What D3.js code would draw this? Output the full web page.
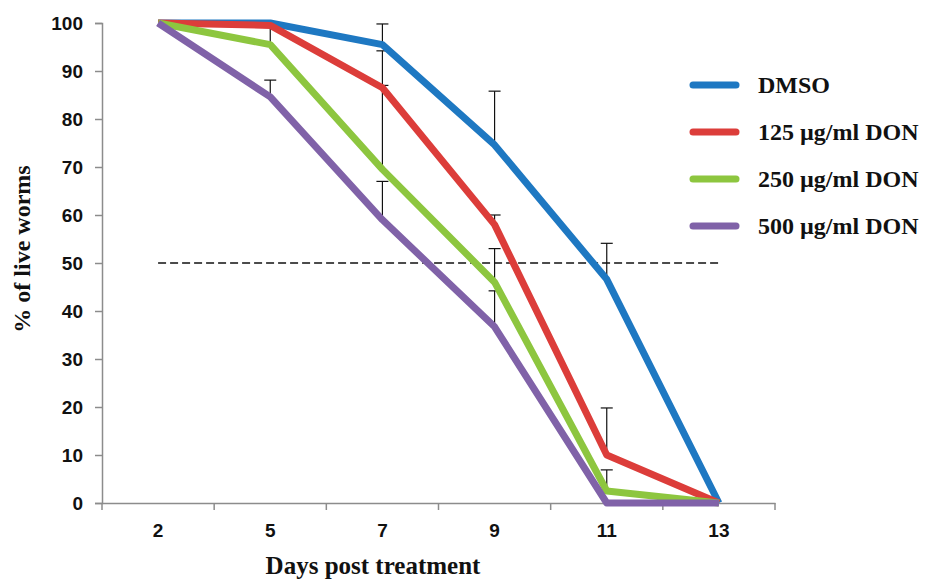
<!DOCTYPE html>
<html>
<head>
<meta charset="utf-8">
<script src="https://cdn.jsdelivr.net/npm/d3@7"></script>
<style>
  body { margin: 0; background: #fff; }
  .tick text { font-family: "Liberation Sans", Arial, sans-serif; font-weight: bold; font-size: 19px; fill: #111; }
  .ttl { font-family: "Liberation Serif", "Times New Roman", serif; font-weight: bold; font-size: 24px; fill: #111; }
</style>
</head>
<body>
<svg id="body" width="933" height="582"></svg>
<script>
let svg = d3.select("#body");

// days post treatment
let days = ["2", "5", "7", "9", "11", "13"];
let seriesNames = ["DMSO", "125 µg/ml DON", "250 µg/ml DON", "500 µg/ml DON"];
let colors = ["#1E78C2", "#DC3D3A", "#8DC63F", "#8062A8"];

// % live worms
let dmso   = [100, 100, 95.5, 74.6, 46.6, 0];
let don125 = [100, 99.5, 86.5, 58, 10, 0];
let don250 = [100, 95.5, 69.5, 46, 2.5, 0];
let don500 = [100, 84.6, 59, 36.7, 0, 0];

// upper error (SD), drawn upward only
let errDmso   = [0, 0, 4.3, 11.2, 7.5, 0];
let err125    = [0, 0, 7.7, 2, 9.8, 0];
let err250    = [0, 4, 17.5, 7, 4.4, 0];
let err500    = [0, 3.5, 8, 7.5, 0, 0];

let yTicks = [0, 10, 20, 30, 40, 50, 60, 70, 80, 90, 100];
let halfLine = 50;

let values = [dmso, don125, don250, don500];
let errors = [errDmso, err125, err250, err500];

let x = d3.scaleBand().domain(days).range([102, 775]);
let y = d3.scaleLinear().domain([0, 100]).range([503, 23]);
let cx = d => x(d) + x.bandwidth() / 2;

// axes
let yAxis = svg.append("g")
  .attr("transform", "translate(102,0)")
  .call(d3.axisLeft(y).tickValues(yTicks).tickSize(7).tickPadding(12));
yAxis.select(".domain").attr("stroke", "#8c8c8c").attr("stroke-width", 1.5);
yAxis.selectAll(".tick line").attr("stroke", "#8c8c8c").attr("stroke-width", 1.5);

let xAxis = svg.append("g")
  .attr("transform", "translate(0,503)")
  .call(d3.axisBottom(x).tickSize(0).tickPadding(21));
xAxis.select(".domain").attr("stroke", "#8c8c8c").attr("stroke-width", 1.5);

// tick marks between categories
xAxis.selectAll(".sep")
  .data(days.concat(["end"]))
  .enter()
  .append("line")
  .attr("x1", (d, i) => 102 + i * x.step())
  .attr("x2", (d, i) => 102 + i * x.step())
  .attr("y1", 0)
  .attr("y2", 7)
  .attr("stroke", "#8c8c8c")
  .attr("stroke-width", 1.5);

// 50% reference line
svg.append("line")
  .attr("x1", cx("2"))
  .attr("x2", cx("13"))
  .attr("y1", y(halfLine))
  .attr("y2", y(halfLine))
  .attr("stroke", "#111")
  .attr("stroke-width", 1.5)
  .attr("stroke-dasharray", "8,4");

// error bars
values.forEach((vals, s) => {
  let g = svg.append("g");
  vals.forEach((v, i) => {
    let e = errors[s][i];
    if (!e) return;
    let px = cx(days[i]);
    g.append("line")
      .attr("x1", px).attr("x2", px)
      .attr("y1", y(v)).attr("y2", y(v + e))
      .attr("stroke", "#111").attr("stroke-width", 1.2);
    g.append("line")
      .attr("x1", px - 6).attr("x2", px + 6)
      .attr("y1", y(v + e)).attr("y2", y(v + e))
      .attr("stroke", "#111").attr("stroke-width", 1.2);
  });
});

// survival lines
let line = d3.line()
  .x((d, i) => cx(days[i]))
  .y(d => y(d));

values.forEach((vals, s) => {
  svg.append("path")
    .attr("d", line(vals))
    .attr("fill", "none")
    .attr("stroke", colors[s])
    .attr("stroke-width", 7)
    .attr("stroke-linejoin", "round");
});

// legend
let legend = svg.selectAll(".leg")
  .data(seriesNames)
  .enter()
  .append("g")
  .attr("transform", (d, i) => "translate(690," + (85 + i * 47) + ")");

legend.append("line")
  .attr("x1", 3).attr("x2", 46)
  .attr("y1", 0).attr("y2", 0)
  .attr("stroke", (d, i) => colors[i])
  .attr("stroke-width", 7)
  .attr("stroke-linecap", "round");

legend.append("text")
  .attr("class", "ttl")
  .attr("x", 68)
  .attr("y", 8)
  .text(d => d);

// axis titles
svg.append("text")
  .attr("class", "ttl")
  .attr("x", 373)
  .attr("y", 574)
  .attr("text-anchor", "middle")
  .style("font-size", "25px")
  .text("Days post treatment");

svg.append("text")
  .attr("class", "ttl")
  .attr("transform", "translate(30,249) rotate(-90)")
  .attr("text-anchor", "middle")
  .text("% of live worms");
</script>
</body>
</html>
